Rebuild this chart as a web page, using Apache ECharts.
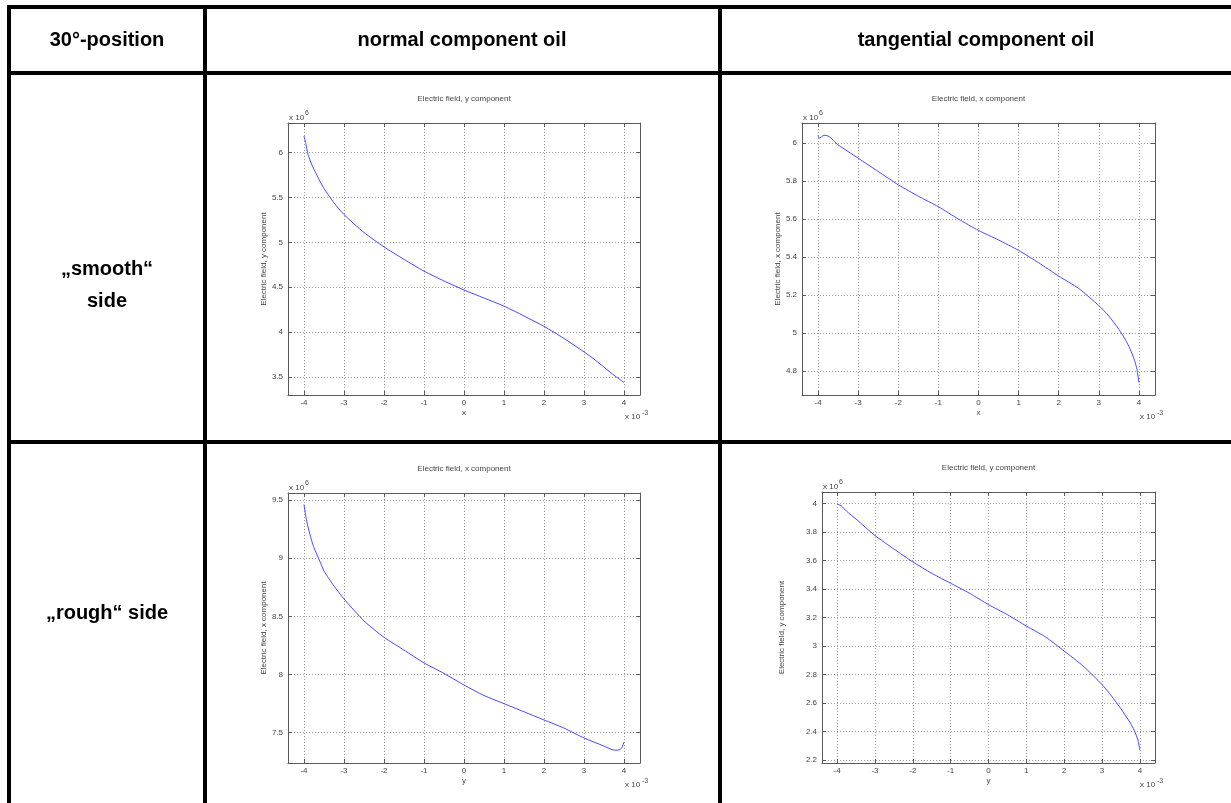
<!DOCTYPE html>
<html>
<head>
<meta charset="utf-8">
<style>
html,body{margin:0;padding:0;background:#fff;}
#main{width:1231px;height:803px;}
</style>
<script src="https://cdn.jsdelivr.net/npm/echarts@6/dist/echarts.min.js"></script>
</head>
<body>
<div id="main"></div>
<script>
// table headings
var colHeads = ['30°-position', 'normal component oil', 'tangential component oil'];
var rowHeads = ['„smooth“\nside', '„rough“ side'];

// position along the edge, x 10^-3
var smoothNormalX = [-4, -3.95, -3.9, -3.8, -3.7, -3.6, -3.5, -3.25, -3, -2.5, -2, -1.5, -1, -0.5, 0, 0.5, 1, 1.5, 2, 2.5, 3, 3.25, 3.5, 3.75, 4];
// field, x 10^6
var smoothNormalE = [6.185, 6.09, 5.98, 5.86, 5.77, 5.68, 5.6, 5.44, 5.31, 5.11, 4.95, 4.81, 4.68, 4.57, 4.47, 4.38, 4.29, 4.18, 4.065, 3.93, 3.78, 3.7, 3.61, 3.52, 3.44];

var smoothTangX = [-4, -3.97, -3.93, -3.9, -3.85, -3.8, -3.7, -3.6, -3.5, -3.25, -3, -2.5, -2, -1.5, -1, -0.5, 0, 0.5, 1, 1.5, 2, 2.5, 3, 3.25, 3.5, 3.65, 3.75, 3.85, 3.9, 3.95, 4];
var smoothTangE = [6.04, 6.025, 6.03, 6.035, 6.04, 6.04, 6.03, 6.01, 5.99, 5.955, 5.92, 5.85, 5.78, 5.72, 5.665, 5.6, 5.54, 5.49, 5.435, 5.37, 5.3, 5.235, 5.145, 5.09, 5.02, 4.97, 4.93, 4.88, 4.85, 4.81, 4.74];

var roughNormalX = [-4, -3.95, -3.9, -3.8, -3.75, -3.6, -3.5, -3.25, -3, -2.5, -2, -1.5, -1, -0.5, 0, 0.5, 1, 1.5, 2, 2.5, 3, 3.5, 3.7, 3.8, 3.9, 3.95, 4];
var roughNormalE = [9.46, 9.35, 9.27, 9.14, 9.09, 8.97, 8.89, 8.76, 8.65, 8.46, 8.32, 8.21, 8.1, 8.01, 7.91, 7.82, 7.75, 7.68, 7.61, 7.54, 7.455, 7.385, 7.355, 7.35, 7.355, 7.375, 7.42];

var roughTangX = [-4, -3.9, -3.75, -3.5, -3, -2.5, -2, -1.5, -1, -0.5, 0, 0.5, 1, 1.5, 2, 2.5, 3, 3.25, 3.5, 3.75, 3.85, 3.95, 4];
var roughTangE = [3.995, 3.985, 3.945, 3.89, 3.775, 3.68, 3.59, 3.51, 3.44, 3.37, 3.29, 3.22, 3.14, 3.065, 2.965, 2.86, 2.73, 2.65, 2.56, 2.46, 2.41, 2.34, 2.27];

var xTicks = [-4, -3, -2, -1, 0, 1, 2, 3, 4];
var yTicks1 = [3.5, 4, 4.5, 5, 5.5, 6];
var yTicks2 = [4.8, 5, 5.2, 5.4, 5.6, 5.8, 6];
var yTicks3 = [7.5, 8, 8.5, 9, 9.5];
var yTicks4 = [2.2, 2.4, 2.6, 2.8, 3, 3.2, 3.4, 3.6, 3.8, 4];

var panels = [
  {x: smoothNormalX, y: smoothNormalE, title: 'Electric field, y component', xName: 'x', yMin: 3.3, yMax: 6.33, yTicks: yTicks1,
   rect: {left: 288, top: 123, width: 352, height: 272}, nameGap: 16},
  {x: smoothTangX, y: smoothTangE, title: 'Electric field, x component', xName: 'x', yMin: 4.675, yMax: 6.105, yTicks: yTicks2,
   rect: {left: 802, top: 123, width: 353, height: 272}, nameGap: 17},
  {x: roughNormalX, y: roughNormalE, title: 'Electric field, x component', xName: 'y', yMin: 7.24, yMax: 9.56, yTicks: yTicks3,
   rect: {left: 288, top: 493, width: 352, height: 270}, nameGap: 17},
  {x: roughTangX, y: roughTangE, title: 'Electric field, y component', xName: 'y', yMin: 2.18, yMax: 4.08, yTicks: yTicks4,
   rect: {left: 822, top: 492, width: 333, height: 271}, nameGap: 36}
];

var font = 'Liberation Sans';
var boxColor = '#5a5a5a';
var txtColor = '#444';

var grids = [], xAxes = [], yAxes = [], series = [], graphics = [];

// table rules
function bar(x, y, w, h) {
  graphics.push({type: 'rect', shape: {x: x, y: y, width: w, height: h}, style: {fill: '#000'}, silent: true});
}
bar(7, 5, 1224, 4);
bar(7, 71, 1224, 4);
bar(7, 440, 1224, 4);
bar(7, 5, 4, 798);
bar(203, 5, 4, 798);
bar(718, 5, 4, 798);

function label(text, x, y, size, opts) {
  opts = opts || {};
  graphics.push({
    type: 'text', x: x, y: y, silent: true,
    style: {text: text, fill: opts.color || '#000', font: (opts.weight || 'normal') + ' ' + size + 'px "' + font + '"',
      align: opts.align || 'center', verticalAlign: 'middle', lineHeight: opts.lh || size}
  });
}
label(colHeads[0], 107, 40, 20, {weight: 'bold'});
label(colHeads[1], 462, 40, 20, {weight: 'bold'});
label(colHeads[2], 976, 40, 20, {weight: 'bold'});
label(rowHeads[0], 107, 285, 20, {weight: 'bold', lh: 32});
label(rowHeads[1], 107, 613, 20, {weight: 'bold'});

panels.forEach(function (p, i) {
  var r = p.rect;
  grids.push({left: r.left, top: r.top, width: r.width, height: r.height, containLabel: false});
  var axLine = {show: true, onZero: false, lineStyle: {color: boxColor, width: 1}};
  xAxes.push({
    type: 'value', gridIndex: i, min: -4.4, max: 4.4, position: 'bottom',
    axisLine: axLine,
    axisTick: {show: true, inside: true, length: 4, customValues: xTicks, lineStyle: {color: boxColor}},
    axisLabel: {customValues: xTicks, color: txtColor, fontSize: 8, fontFamily: font, margin: 4},
    splitLine: {show: true, lineStyle: {color: '#9a9a9a', type: [1, 2], width: 1}},
    name: p.xName, nameLocation: 'middle', nameGap: 14,
    nameTextStyle: {color: txtColor, fontSize: 8, fontFamily: font}
  });
  yAxes.push({
    type: 'value', gridIndex: i, min: p.yMin, max: p.yMax, position: 'left',
    axisLine: axLine,
    axisTick: {show: true, inside: true, length: 4, customValues: p.yTicks, lineStyle: {color: boxColor}},
    axisLabel: {customValues: p.yTicks, color: txtColor, fontSize: 8, fontFamily: font, margin: 5},
    splitLine: {show: true, lineStyle: {color: '#9a9a9a', type: [1, 2], width: 1}},
    name: p.title, nameLocation: 'middle', nameGap: p.nameGap, nameRotate: 90,
    nameTextStyle: {color: txtColor, fontSize: 8, fontFamily: font}
  });
  series.push({
    type: 'line', xAxisIndex: i, yAxisIndex: i,
    data: p.x.map(function (v, k) { return [v, p.y[k]]; }),
    showSymbol: false, smooth: 0.2,
    lineStyle: {color: '#4848ff', width: 1}, silent: true
  });
  // titles and exponent markers
  label(p.title, r.left + r.width / 2, r.top - 24, 8, {color: txtColor});
  label('x 10', r.left + 1, r.top - 5, 8, {color: txtColor, align: 'left'});
  label('6', r.left + 17, r.top - 10, 7, {color: txtColor, align: 'left'});
  label('x 10', r.left + r.width - 15, r.top + r.height + 22, 8, {color: txtColor, align: 'left'});
  label('-3', r.left + r.width + 2, r.top + r.height + 18, 7, {color: txtColor, align: 'left'});
});

// mirror axes on top and right so the box gets inward ticks on every side
panels.forEach(function (p, i) {
  xAxes.push({
    type: 'value', gridIndex: i, min: -4.4, max: 4.4, position: 'top',
    axisLine: {show: true, onZero: false, lineStyle: {color: boxColor, width: 1}},
    axisTick: {show: true, inside: true, length: 4, customValues: xTicks, lineStyle: {color: boxColor}},
    axisLabel: {show: false}, splitLine: {show: false}
  });
  yAxes.push({
    type: 'value', gridIndex: i, min: p.yMin, max: p.yMax, position: 'right',
    axisLine: {show: true, onZero: false, lineStyle: {color: boxColor, width: 1}},
    axisTick: {show: true, inside: true, length: 4, customValues: p.yTicks, lineStyle: {color: boxColor}},
    axisLabel: {show: false}, splitLine: {show: false}
  });
});

var chart = echarts.init(document.getElementById('main'), null, {renderer: 'canvas'});
chart.setOption({
  animation: false,
  backgroundColor: '#fff',
  grid: grids,
  xAxis: xAxes,
  yAxis: yAxes,
  series: series,
  graphic: graphics
});
</script>
</body>
</html>
